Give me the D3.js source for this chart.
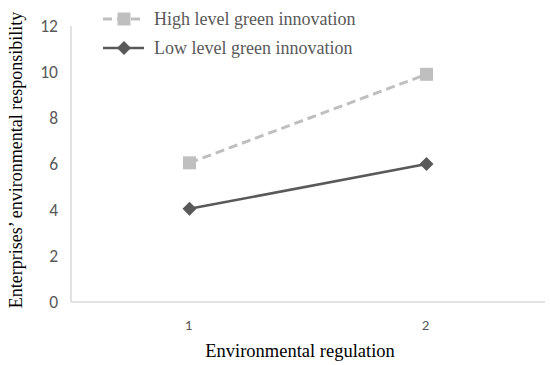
<!DOCTYPE html>
<html>
<head>
<meta charset="utf-8">
<script src="https://cdn.jsdelivr.net/npm/d3@7"></script>
<style>
  body { margin: 0; background: #fff; }
</style>
</head>
<body>
<script>
var categories = ["1", "2"];
var yTicks = [0, 2, 4, 6, 8, 10, 12];
var highValues = [6.05, 9.9];
var lowValues = [4.05, 6.0];
var seriesNames = ["High level green innovation", "Low level green innovation"];

var width = 550, height = 365;
var margin = {left: 71, right: 5, top: 26, bottom: 63};

var svg = d3.select("body").append("svg")
    .attr("width", width)
    .attr("height", height);

var x = d3.scaleBand()
    .domain(categories)
    .range([margin.left, width - margin.right]);

var y = d3.scaleLinear()
    .domain([0, 12])
    .range([height - margin.bottom, margin.top]);

// axes
svg.append("line")
    .attr("x1", margin.left).attr("x2", margin.left)
    .attr("y1", y(12)).attr("y2", y(0))
    .attr("stroke", "#d9d9d9").attr("stroke-width", 1.5);
svg.append("line")
    .attr("x1", margin.left).attr("x2", width - margin.right)
    .attr("y1", y(0)).attr("y2", y(0))
    .attr("stroke", "#d9d9d9").attr("stroke-width", 1.5);

svg.selectAll(".ytick")
    .data(yTicks)
    .enter().append("text")
    .attr("x", margin.left - 13)
    .attr("y", function (d) { return y(d); })
    .attr("dy", "0.35em")
    .attr("text-anchor", "end")
    .attr("font-family", "Carlito, 'Liberation Sans', sans-serif")
    .attr("font-size", 17.5)
    .attr("fill", "#595959")
    .text(function (d) { return d; });

svg.selectAll(".xtick")
    .data(categories)
    .enter().append("text")
    .attr("x", function (d) { return x(d) + x.bandwidth() / 2 - 1; })
    .attr("y", y(0) + 28)
    .attr("text-anchor", "middle")
    .attr("font-family", "Carlito, 'Liberation Sans', sans-serif")
    .attr("font-size", 15)
    .attr("fill", "#595959")
    .text(function (d) { return d; });

// axis titles
svg.append("text")
    .attr("x", 300)
    .attr("y", 357)
    .attr("text-anchor", "middle")
    .attr("font-family", "'Liberation Serif', serif")
    .attr("font-size", 18.5)
    .attr("fill", "#000")
    .text("Environmental regulation");

svg.append("text")
    .attr("transform", "translate(22,160) rotate(-90)")
    .attr("text-anchor", "middle")
    .attr("font-family", "'Liberation Serif', serif")
    .attr("font-size", 18)
    .attr("fill", "#000")
    .text("Enterprises’ environmental responsibility");

// series
var cx = function (d, i) { return x(categories[i]) + x.bandwidth() / 2; };

var line = d3.line()
    .x(cx)
    .y(function (d) { return y(d); });

svg.append("path")
    .datum(highValues)
    .attr("d", line)
    .attr("fill", "none")
    .attr("stroke", "#bfbfbf")
    .attr("stroke-width", 3)
    .attr("stroke-dasharray", "9,5");

svg.append("path")
    .datum(lowValues)
    .attr("d", line)
    .attr("fill", "none")
    .attr("stroke", "#595959")
    .attr("stroke-width", 2.5);

var square = function () { return "M-6.5,-6.5H6.5V6.5H-6.5Z"; };
var diamond = function () { return "M0,-7L7,0L0,7L-7,0Z"; };

svg.selectAll(".hi")
    .data(highValues)
    .enter().append("path")
    .attr("d", square)
    .attr("transform", function (d, i) { return "translate(" + cx(d, i) + "," + y(d) + ")"; })
    .attr("fill", "#bfbfbf");

svg.selectAll(".lo")
    .data(lowValues)
    .enter().append("path")
    .attr("d", diamond)
    .attr("transform", function (d, i) { return "translate(" + cx(d, i) + "," + y(d) + ")"; })
    .attr("fill", "#595959");

// legend
var legend = [
    {name: seriesNames[0], color: "#bfbfbf", dash: "9,5", w: 3, sym: square, y: 19},
    {name: seriesNames[1], color: "#595959", dash: null, w: 2.5, sym: diamond, y: 48}
];

var lg = svg.selectAll(".lg")
    .data(legend)
    .enter().append("g")
    .attr("transform", function (d) { return "translate(0," + d.y + ")"; });

lg.append("line")
    .attr("x1", 103).attr("x2", 144)
    .attr("stroke", function (d) { return d.color; })
    .attr("stroke-width", function (d) { return d.w; })
    .attr("stroke-dasharray", function (d) { return d.dash; });

lg.append("path")
    .attr("d", function (d) { return d.sym(); })
    .attr("transform", "translate(124,0)")
    .attr("fill", function (d) { return d.color; });

lg.append("text")
    .attr("x", 154)
    .attr("dy", "0.35em")
    .attr("font-family", "'Liberation Serif', serif")
    .attr("font-size", 18)
    .attr("fill", "#595959")
    .text(function (d) { return d.name; });
</script>
</body>
</html>
